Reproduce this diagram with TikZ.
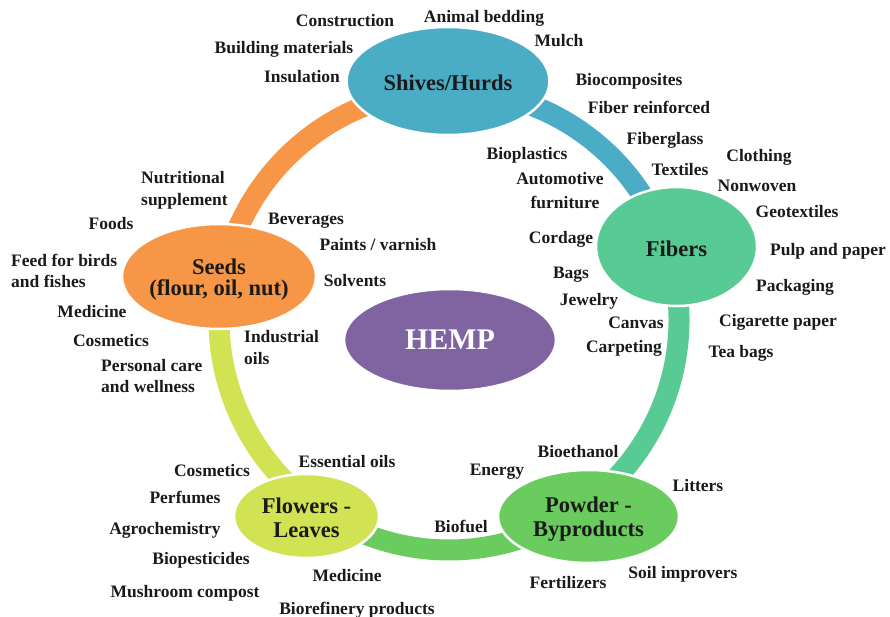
\documentclass[tikz,border=0pt]{standalone}
\usepackage{fontspec}
\setmainfont{Liberation Serif}
\usetikzlibrary{shapes.geometric}
\definecolor{cShives}{HTML}{4BACC6}
\definecolor{cFibers}{HTML}{58CA94}
\definecolor{cPowder}{HTML}{6ACC5E}
\definecolor{cFlowers}{HTML}{D1E353}
\definecolor{cSeeds}{HTML}{F79646}
\definecolor{cHemp}{HTML}{8064A2}
\definecolor{ink}{HTML}{1A1A1A}
\begin{document}
\begin{tikzpicture}[x=1pt,y=-1pt,
  lab/.style={inner sep=0pt, text=ink, font=\fontsize{17.5}{21.5}\selectfont\bfseries, text height=12pt, text depth=4pt, yshift=-3pt},
  mlab/.style={inner sep=0pt, text=ink, font=\fontsize{17.5}{21.5}\selectfont\bfseries, align=left, anchor=west, yshift=-0.5pt},
  hub/.style={ellipse, draw=white, line width=2.5pt, inner sep=0pt},
  hubtext/.style={inner sep=0pt, text=ink, font=\fontsize{22.5}{24}\selectfont\bfseries, align=center},
  band/.style={line width=21pt}]
\useasboundingbox (0,0) rectangle (890,617);
% ring
\coordinate (O) at (449,320);
\coordinate (rSeeds) at ([shift={(O)}]190.3:230);
\coordinate (rShives) at ([shift={(O)}]-90.2:230);
\coordinate (rFibers) at ([shift={(O)}]-17.8:230);
\coordinate (rPowder) at ([shift={(O)}]54.5:230);
\coordinate (rFlowers) at ([shift={(O)}]126.3:230);
\draw[band, cSeeds] (rSeeds) arc[start angle=169.7, end angle=90.2, radius=230pt];
\draw[band, cShives] (rShives) arc[start angle=90.2, end angle=17.8, radius=230pt];
\draw[band, cFibers] (rFibers) arc[start angle=17.8, end angle=-54.5, radius=230pt];
\draw[band, cPowder] (rPowder) arc[start angle=-54.5, end angle=-126.3, radius=230pt];
\draw[band, cFlowers] (rFlowers) arc[start angle=-126.3, end angle=-190.3, radius=230pt];
% hubs
\node[hub, fill=cShives, minimum width=203pt, minimum height=108pt] (shives) at (448,81) {};
\node[hub, fill=cFibers, minimum width=161pt, minimum height=119pt] (fibers) at (676.5,246.5) {};
\node[hub, fill=cPowder, minimum width=181pt, minimum height=93pt] (powder) at (588.5,516.5) {};
\node[hub, fill=cFlowers, minimum width=145pt, minimum height=84pt] (flowers) at (306.5,516) {};
\node[hub, fill=cSeeds, minimum width=194pt, minimum height=105pt] (seeds) at (219,276.5) {};
\node[hub, fill=cHemp, minimum width=212pt, minimum height=102pt] (hemp) at (450,340) {};
\node[hubtext] (shivesT) at ([yshift=-2pt]shives.center) {Shives/Hurds};
\node[hubtext] (fibersT) at ([yshift=-2pt]fibers.center) {Fibers};
\node[hubtext] (powderT) at ([yshift=-3pt]powder.center) {Powder -\\Byproducts};
\node[hubtext] (flowersT) at ([yshift=-1.5pt]flowers.center) {Flowers -\\Leaves};
\node[hubtext, font=\fontsize{22.5}{21}\selectfont\bfseries] (seedsT) at ([yshift=-3pt]seeds.center) {Seeds\\(flour, oil, nut)};
\node[hubtext, text=white, font=\fontsize{30}{32}\selectfont\bfseries] (hempT) at (hemp.center) {HEMP};
% labels
\node[lab] (l1) at (345,20) {Construction};
\node[lab] (l2) at (484,16) {Animal bedding};
\node[lab] (l3) at (559,40) {Mulch};
\node[lab] (l4) at (284,47) {Building materials};
\node[lab] (l5) at (302,76) {Insulation};
\node[lab] (l6) at (629,79) {Biocomposites};
\node[lab] (l7) at (649,107) {Fiber reinforced};
\node[lab] (l8) at (665,138) {Fiberglass};
\node[lab] (l9) at (527,153) {Bioplastics};
\node[lab] (l10) at (759,155) {Clothing};
\node[lab] (l11) at (680,169) {Textiles};
\node[lab] (l12) at (560,178) {Automotive};
\node[lab] (l13) at (757,185) {Nonwoven};
\node[lab] (l14) at (565,202) {furniture};
\node[lab] (l15) at (797,211) {Geotextiles};
\node[lab] (l16) at (561,237) {Cordage};
\node[lab] (l17) at (828,249) {Pulp and paper};
\node[lab] (l18) at (571,271) {Bags};
\node[lab] (l19) at (795,284) {Packaging};
\node[lab] (l20) at (589,298) {Jewelry};
\node[lab] (l21) at (636,321) {Canvas};
\node[lab] (l22) at (778,319) {Cigarette paper};
\node[lab] (l23) at (624,345) {Carpeting};
\node[lab] (l24) at (741,350) {Tea bags};
\node[lab] (l25) at (111,223) {Foods};
\node[lab] (l26) at (306,218) {Beverages};
\node[lab] (l27) at (378,244) {Paints / varnish};
\node[lab] (l28) at (355,279) {Solvents};
\node[lab] (l29) at (92,310) {Medicine};
\node[lab] (l30) at (111,339) {Cosmetics};
\node[lab] (l31) at (347,460) {Essential oils};
\node[lab] (l32) at (212,469) {Cosmetics};
\node[lab] (l33) at (185,496) {Perfumes};
\node[lab] (l34) at (165,527) {Agrochemistry};
\node[lab] (l35) at (201,557) {Biopesticides};
\node[lab] (l36) at (347,574) {Medicine};
\node[lab] (l37) at (185,590) {Mushroom compost};
\node[lab] (l38) at (357,607) {Biorefinery products};
\node[lab] (l39) at (461,525) {Biofuel};
\node[lab] (l40) at (497,468) {Energy};
\node[lab] (l41) at (578,450) {Bioethanol};
\node[lab] (l42) at (698,484) {Litters};
\node[lab] (l43) at (683,571) {Soil improvers};
\node[lab] (l44) at (568,581) {Fertilizers};
\node[mlab] (m1) at (141,190) {Nutritional\\supplement};
\node[mlab] (m2) at (11,270.5) {Feed for birds\\and fishes};
\node[mlab] (m3) at (244,347) {Industrial\\oils};
\node[mlab] (m4) at (101,375.5) {Personal care\\and wellness};
\end{tikzpicture}
\end{document}
